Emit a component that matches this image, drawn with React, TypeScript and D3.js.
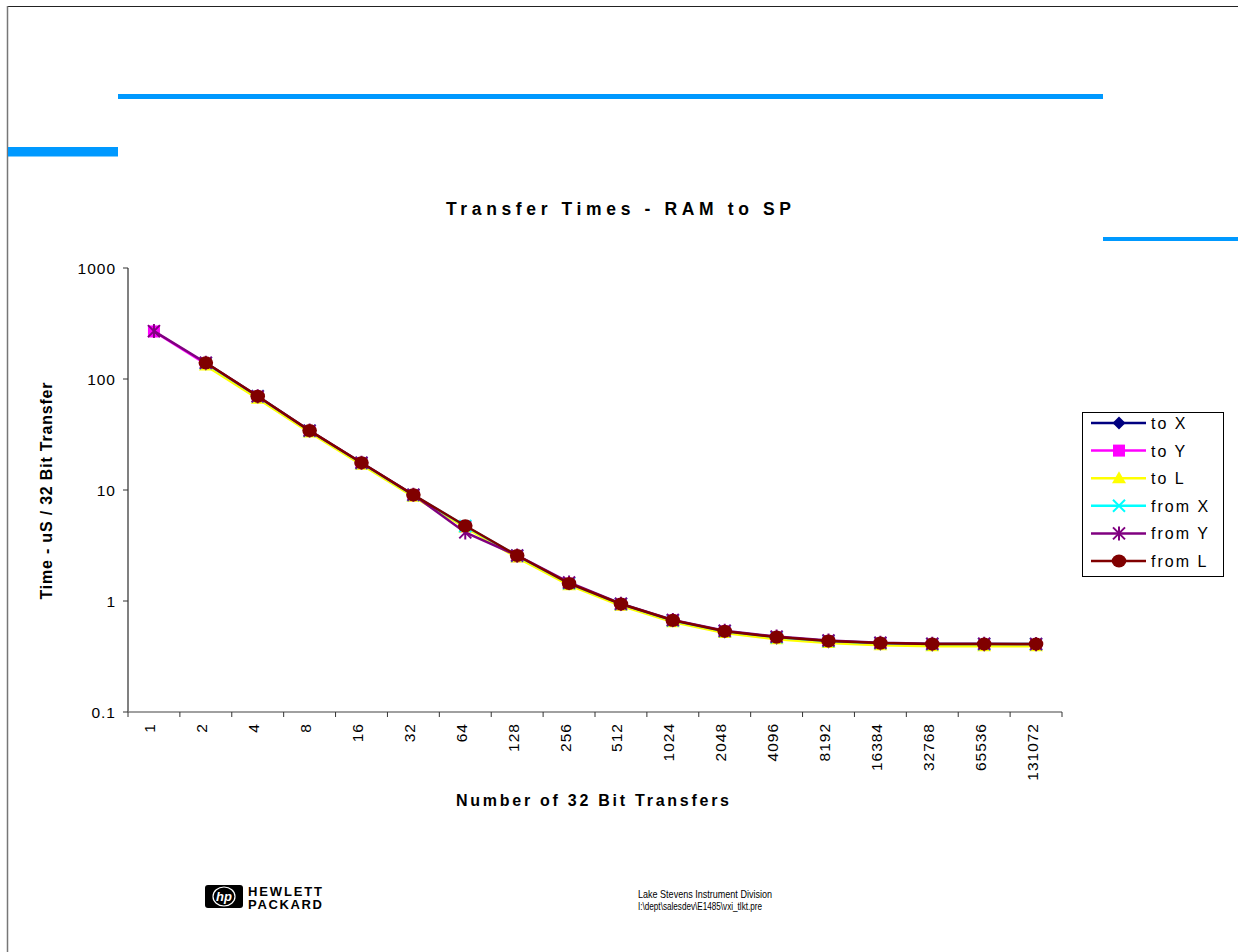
import React from "react";
import * as d3 from "d3";

const categories = ["1","2","4","8","16","32","64","128","256","512","1024","2048","4096","8192","16384","32768","65536","131072"];
const yTicks = [1000, 100, 10, 1, 0.1];
const yTickLabels = ["1000", "100", "10", "1", "0.1"];

const toX =   [null, 136, 68.5, 33.8, 17.3, 8.9, 4.68, 2.52, 1.42, 0.925, 0.66, 0.527, 0.462, 0.427, 0.408, 0.4, 0.4, 0.4];
const toY =   [268, 137, 69, 34, 17.4, 8.95, 4.7, 2.53, 1.43, 0.93, 0.665, 0.53, 0.465, 0.43, 0.41, 0.402, 0.402, 0.402];
const toL =   [null, 132, 66.5, 33, 16.9, 8.7, 4.6, 2.46, 1.39, 0.905, 0.645, 0.515, 0.452, 0.418, 0.4, 0.392, 0.392, 0.392];
const fromX = [null, 139, 69.8, 34.2, 17.5, 9.0, 4.74, 2.56, 1.445, 0.94, 0.668, 0.535, 0.472, 0.436, 0.417, 0.409, 0.409, 0.409];
const fromY = [270, 140, 70, 34.3, 17.6, 9.05, 4.15, 2.57, 1.47, 0.945, 0.675, 0.54, 0.478, 0.44, 0.42, 0.412, 0.412, 0.41];
const fromL = [null, 140, 70, 34.3, 17.6, 9.05, 4.76, 2.57, 1.44, 0.94, 0.67, 0.535, 0.473, 0.437, 0.418, 0.41, 0.41, 0.41];

const seriesNames = ["to X", "to Y", "to L", "from X", "from Y", "from L"];
const seriesValues = [toX, toY, toL, fromX, fromY, fromL];
const seriesColors = ["#000080", "#FF00FF", "#FFFF00", "#00FFFF", "#800080", "#800000"];
const seriesMarkers = ["diamond", "square", "triangle", "x", "asterisk", "circle"];

const FONT = "'Liberation Sans', Arial, Helvetica, sans-serif";

function Marker({ type, x, y, color }: { type: string; x: number; y: number; color: string }) {
  switch (type) {
    case "diamond":
      return <path d={`M${x},${y - 6.5}L${x + 6.5},${y}L${x},${y + 6.5}L${x - 6.5},${y}Z`} fill={color} />;
    case "square":
      return <rect x={x - 6} y={y - 6} width={12} height={12} fill={color} />;
    case "triangle":
      return <path d={`M${x},${y - 7}L${x + 7},${y + 5}L${x - 7},${y + 5}Z`} fill={color} />;
    case "x":
      return (
        <path d={`M${x - 6},${y - 6}L${x + 6},${y + 6}M${x - 6},${y + 6}L${x + 6},${y - 6}`} stroke={color} strokeWidth={2} fill="none" />
      );
    case "asterisk":
      return (
        <path
          d={`M${x - 6},${y - 6}L${x + 6},${y + 6}M${x - 6},${y + 6}L${x + 6},${y - 6}M${x},${y - 7}L${x},${y + 7}`}
          stroke={color}
          strokeWidth={2}
          fill="none"
        />
      );
    default:
      return <ellipse cx={x} cy={y} rx={7.3} ry={6.5} fill={color} />;
  }
}

export default function App() {
  const left = 128, right = 1062, top = 268, bottom = 712;
  const x = d3.scaleBand<string>().domain(categories).range([left, right]).paddingInner(0).paddingOuter(0);
  const y = d3.scaleLog().domain([0.1, 1000]).range([bottom, top]);
  const cx = (c: string) => (x(c) as number) + x.bandwidth() / 2;

  const line = d3
    .line<{ c: string; v: number | null }>()
    .defined((d) => d.v != null)
    .x((d) => cx(d.c))
    .y((d) => y(d.v as number));

  const boundaries = categories.map((c) => x(c) as number).concat([right]);

  const legendX = 1082.5, legendY = 412.5;

  return (
    <svg
      width={1238}
      height={952}
      style={{ position: "absolute", left: 0, top: 0, display: "block", background: "#fff" }}
      fontFamily={FONT}
    >
      <rect x={0} y={0} width={1238} height={952} fill="#fff" />
      {/* page frame */}
      <line x1={7} y1={6.5} x2={1238} y2={6.5} stroke="#222" strokeWidth={1} />
      <line x1={7.5} y1={6} x2={7.5} y2={952} stroke="#777" strokeWidth={1.5} />
      {/* decorative blue bars */}
      <rect x={118} y={94} width={985} height={5} fill="#0099FF" />
      <rect x={8} y={147} width={110} height={9.5} fill="#0099FF" />
      <rect x={1103} y={237} width={135} height={4} fill="#0099FF" />

      {/* title */}
      <text x={618.5} y={215} textAnchor="middle" fontSize={17.5} fontWeight="bold" textLength={345} lengthAdjust="spacing">
        Transfer Times - RAM to SP
      </text>

      {/* y axis */}
      <line x1={left} y1={top} x2={left} y2={bottom} stroke="#808080" strokeWidth={2} />
      {yTicks.map((t, i) => (
        <g key={t}>
          <line x1={left - 5} x2={left} y1={y(t)} y2={y(t)} stroke="#333" strokeWidth={1} />
          <text x={116} y={y(t) + 5.5} textAnchor="end" fontSize={15.5} letterSpacing={1}>
            {yTickLabels[i]}
          </text>
        </g>
      ))}
      <text
        transform={`translate(51.5,491) rotate(-90)`}
        textAnchor="middle"
        fontSize={16}
        fontWeight="bold"
        textLength={217}
        lengthAdjust="spacing"
      >
        Time - uS / 32 Bit Transfer
      </text>

      {/* x axis */}
      <line x1={left} y1={bottom} x2={right} y2={bottom} stroke="#808080" strokeWidth={1.5} />
      {boundaries.map((b, i) => (
        <line key={i} x1={b} x2={b} y1={bottom} y2={bottom + 5} stroke="#333" strokeWidth={1} />
      ))}
      {categories.map((c) => (
        <text
          key={c}
          transform={`translate(${cx(c) + 1.5},${bottom + 11}) rotate(-90)`}
          textAnchor="end"
          fontSize={15.5}
          letterSpacing={1}
        >
          {c}
        </text>
      ))}
      <text x={592.5} y={806} textAnchor="middle" fontSize={16} fontWeight="bold" textLength={273} lengthAdjust="spacing">
        Number of 32 Bit Transfers
      </text>

      {/* series */}
      {seriesValues.map((vals, si) => {
        const pts = categories.map((c, i) => ({ c, v: vals[i] }));
        return (
          <g key={seriesNames[si]}>
            <path d={line(pts) || ""} fill="none" stroke={seriesColors[si]} strokeWidth={2.5} />
            {pts
              .filter((p) => p.v != null)
              .map((p) => (
                <Marker key={p.c} type={seriesMarkers[si]} x={cx(p.c)} y={y(p.v as number)} color={seriesColors[si]} />
              ))}
          </g>
        );
      })}

      {/* legend */}
      <rect x={legendX} y={legendY} width={141} height={164} fill="#fff" stroke="#000" strokeWidth={1} />
      {seriesNames.map((n, i) => {
        const ly = 423 + i * 27.6;
        return (
          <g key={n}>
            <line x1={1091} x2={1146} y1={ly} y2={ly} stroke={seriesColors[i]} strokeWidth={2.5} />
            <Marker type={seriesMarkers[i]} x={1119} y={ly} color={seriesColors[i]} />
            <text x={1151} y={ly + 6} fontSize={16} letterSpacing={2}>
              {n}
            </text>
          </g>
        );
      })}

      {/* footer: HP logo */}
      <rect x={205} y={885} width={38} height={23} rx={3} fill="#000" />
      <ellipse cx={224} cy={896.5} rx={11} ry={9.5} fill="none" stroke="#fff" strokeWidth={1.2} />
      <text x={224} y={901} textAnchor="middle" fontSize={13} fontStyle="italic" fontWeight="bold" fill="#fff">
        hp
      </text>
      <text x={248} y={895.5} fontSize={13} fontWeight="bold" textLength={74} lengthAdjust="spacing">
        HEWLETT
      </text>
      <text x={248} y={908.5} fontSize={13} fontWeight="bold" textLength={74} lengthAdjust="spacing">
        PACKARD
      </text>

      {/* footer: division text */}
      <text x={638} y={898} fontSize={10.5} fontFamily="'Liberation Sans Narrow', 'Liberation Sans', Arial, sans-serif" textLength={134} lengthAdjust="spacingAndGlyphs">
        Lake Stevens Instrument Division
      </text>
      <text x={638} y={910} fontSize={10.5} fontFamily="'Liberation Sans Narrow', 'Liberation Sans', Arial, sans-serif" textLength={124} lengthAdjust="spacingAndGlyphs">
        I:\dept\salesdev\E1485\vxi_tlkt.pre
      </text>
    </svg>
  );
}
